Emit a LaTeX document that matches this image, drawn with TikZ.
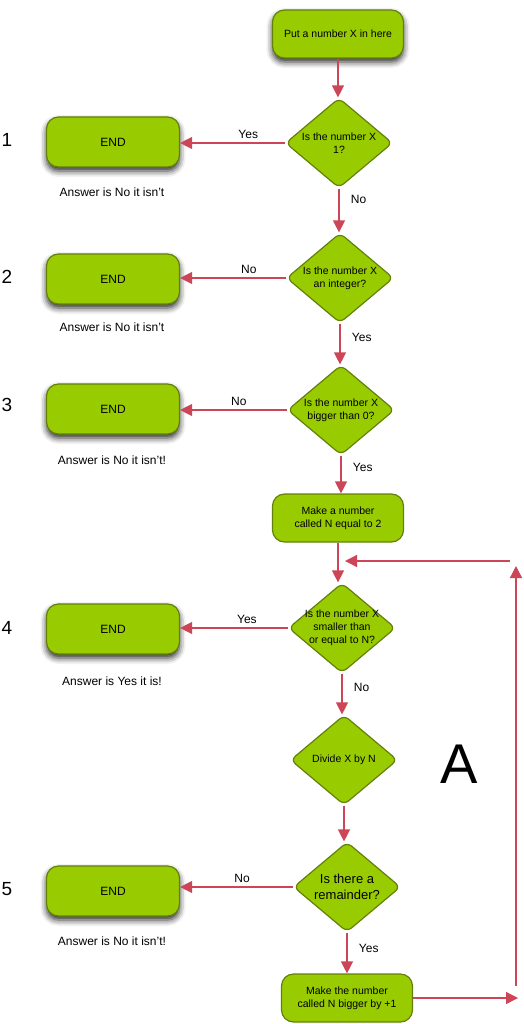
\documentclass[tikz,border=0pt]{standalone}
\usepackage{fontspec}
\setmainfont{Liberation Sans}
\usepackage{xcolor}
\usepackage{tikz}
\usetikzlibrary{shapes.geometric}
\usetikzlibrary{arrows.meta}
\usetikzlibrary{shadows.blur}
\definecolor{leaf}{RGB}{153,204,0}
\definecolor{leafdark}{RGB}{98,128,10}
\definecolor{flow}{RGB}{204,70,88}
\tikzset{
  box/.style={draw=leafdark, line width=1.2pt, fill=leaf, rounded corners=12pt,
    minimum width=131pt, minimum height=48pt, align=center,
    font=\fontsize{10.5}{13}\selectfont},
  shade/.style={blur shadow={shadow xshift=0pt, shadow yshift=-4pt,
    shadow blur radius=6pt, shadow opacity=85}},
  endbox/.style={box, shade, minimum width=133pt, minimum height=50pt,
    font=\fontsize{12}{14}\selectfont},
  ask/.style={diamond, draw=leafdark, line width=1.2pt, fill=leaf,
    rounded corners=6pt, minimum width=107pt, minimum height=90pt, inner sep=0pt},
  asktext/.style={align=center, font=\fontsize{10.5}{13}\selectfont},
  arr/.style={draw=flow, line width=1.3pt, -{Triangle[length=12pt,width=12pt]}},
  lbl/.style={font=\fontsize{12}{14}\selectfont},
  num/.style={font=\fontsize{19}{22}\selectfont}
}

\begin{document}
\begin{tikzpicture}[x=1pt, y=-1pt]
\useasboundingbox (0,0) rectangle (524,1024);

% main column
\node[box, shade] (st) at (338,34) {Put a number X in here};
\node[ask] (q1) at (339,143) {};
\node[asktext] (q1t) at (q1) {Is the number X\\1?};
\node[ask] (q2) at (340,278) {};
\node[asktext] (q2t) at (q2) {Is the number X\\an integer?};
\node[ask] (q3) at (341,410) {};
\node[asktext] (q3t) at (q3) {Is the number X\\bigger than 0?};
\node[box] (init) at (338,518) {Make a number\\called N equal to 2};
\node[ask] (q4) at (342,628) {};
\node[asktext] (q4t) at (q4) {Is the number X\\smaller than\\or equal to N?};
\node[ask] (dv) at (344,760) {};
\node[asktext] (dvt) at (dv) {Divide X by N};
\node[ask] (q5) at (347,887) {};
\node[asktext, font=\fontsize{13}{16}\selectfont] (q5t) at (q5) {Is there a\\remainder?};
\node[box] (inc) at (347,998) {Make the number\\called N bigger by +1};

% end boxes
\node[endbox] (e1) at (113,142) {END};
\node[endbox] (e2) at (113,279) {END};
\node[endbox] (e3) at (113,409) {END};
\node[endbox] (e4) at (113,629) {END};
\node[endbox] (e5) at (113,891) {END};
\node[lbl] (a1) at (112,192) {Answer is No it isn't};
\node[lbl] (a2) at (112,327) {Answer is No it isn't};
\node[lbl] (a3) at (112,460) {Answer is No it isn't!};
\node[lbl] (a4) at (112,681) {Answer is Yes it is!};
\node[lbl] (a5) at (112,941) {Answer is No it isn't!};
\node[num] (n1) at (7,140) {1};
\node[num] (n2) at (7,277) {2};
\node[num] (n3) at (7,405) {3};
\node[num] (n4) at (7,628) {4};
\node[num] (n5) at (7,889) {5};
\node[font=\fontsize{56}{60}\selectfont] (loopA) at (459,764) {A};

% down the column
\draw[arr] (st) -- (st |- q1.north);
\draw[arr] (q1) -- (q1 |- q2.north) node[lbl, pos=0.25, right=8pt] {No};
\draw[arr] (q2) -- (q2 |- q3.north) node[lbl, pos=0.34, right=8pt] {Yes};
\draw[arr] (q3) -- (q3 |- init.north) node[lbl, pos=0.3, right=8pt] {Yes};
\draw[arr] (init) -- (init |- q4.north);
\draw[arr] (q4) -- (q4 |- dv.north) node[lbl, pos=0.35, right=8pt] {No};
\draw[arr] (dv) -- (dv |- q5.north);
\draw[arr] (q5) -- (q5 |- inc.north) node[lbl, pos=0.38, right=8pt] {Yes};

% out to the ends
\draw[arr] (q1) -- (q1 -| e1.east) node[lbl, pos=0.35, above] {Yes};
\draw[arr] (q2) -- (q2 -| e2.east) node[lbl, pos=0.35, above] {No};
\draw[arr] (q3) -- (q3 -| e3.east) node[lbl, pos=0.45, above] {No};
\draw[arr] (q4) -- (q4 -| e4.east) node[lbl, pos=0.38, above] {Yes};
\draw[arr] (q5) -- (q5 -| e5.east) node[lbl, pos=0.45, above] {No};

% loop back
\coordinate (r1) at (518,998);
\coordinate (r2) at (516,986);
\coordinate (r3) at (516,566);
\coordinate (r4) at (510,561);
\coordinate (r5) at (345,561);
\draw[arr] (inc) -- (r1);
\draw[arr] (r2) -- (r3);
\draw[arr] (r4) -- (r5);
\end{tikzpicture}
\end{document}
